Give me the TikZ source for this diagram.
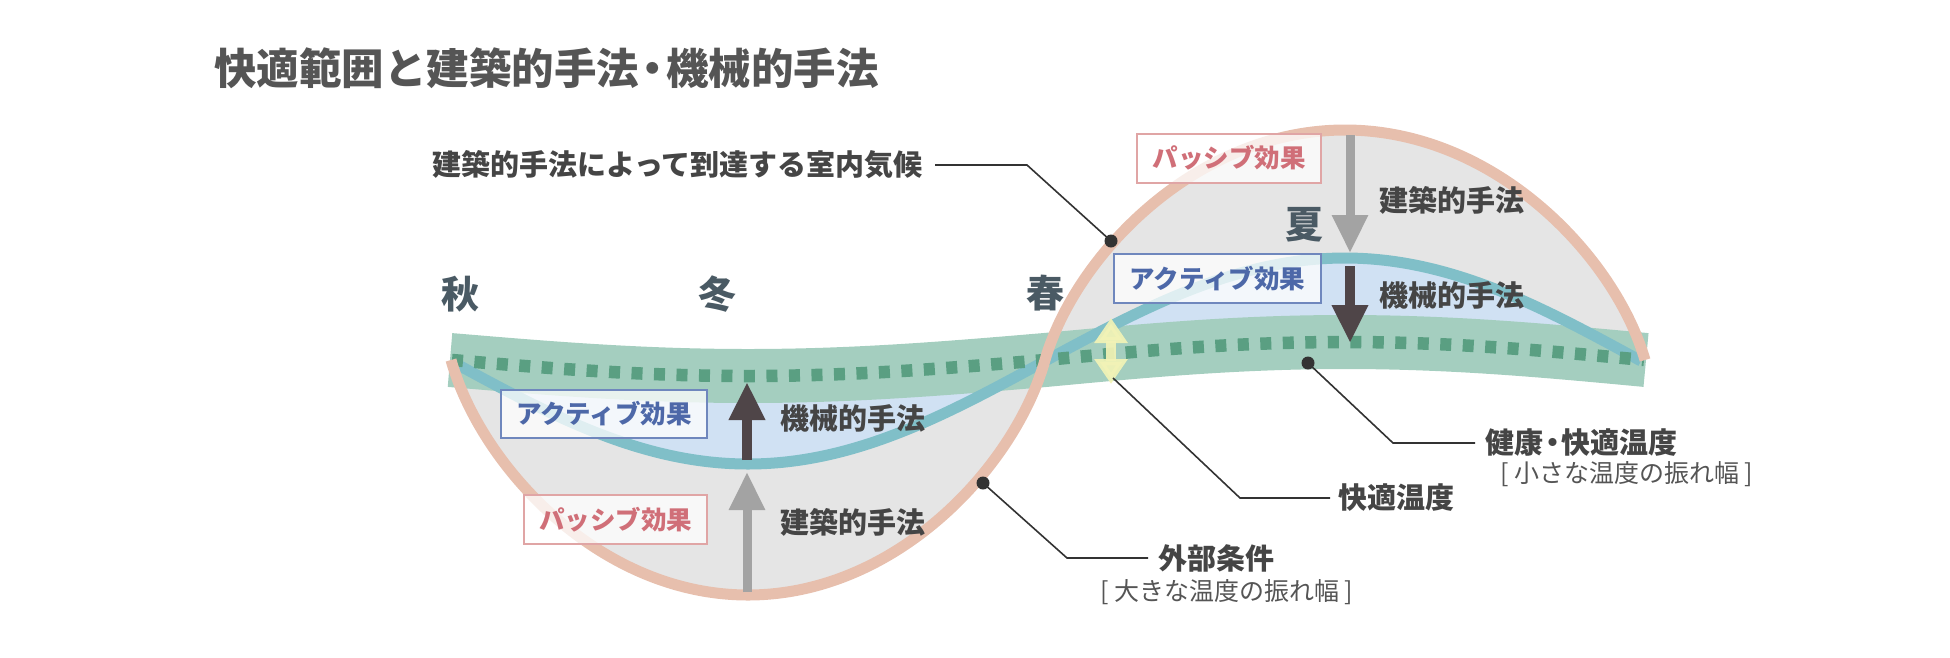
\documentclass[tikz,border=0pt]{standalone}
\usepackage{fontspec}
\setmainfont{Noto Sans CJK JP}
\usetikzlibrary{arrows.meta}
\definecolor{pinkc}{HTML}{E7BFAD}
\definecolor{grayfill}{HTML}{E5E5E5}
\definecolor{bluefill}{HTML}{D0E1F3}
\definecolor{tealc}{HTML}{80BFC8}
\definecolor{bandc}{HTML}{A4CEBF}
\definecolor{dotc}{HTML}{5A9F82}
\definecolor{yelc}{HTML}{F2F3B6}
\definecolor{arrgray}{HTML}{A3A3A3}
\definecolor{arrdark}{HTML}{4F4548}
\definecolor{ptext}{HTML}{D06F78}
\definecolor{pbord}{HTML}{E0A5A5}
\definecolor{atext}{HTML}{4D68A8}
\definecolor{abord}{HTML}{6F87BD}
\definecolor{titlec}{HTML}{555555}
\definecolor{labelc}{HTML}{454545}
\definecolor{subc}{HTML}{555555}
\definecolor{seasonc}{HTML}{4A5A64}
\definecolor{leadc}{HTML}{333333}
\newcommand{\ndot}{\hspace{-0.18em}・\hspace{-0.18em}}
\begin{document}
\begin{tikzpicture}[x=1pt,y=-1pt,
  titletext/.style={font=\bfseries\fontsize{42.5}{42.5}\selectfont, text=titlec, inner sep=0pt, anchor=west},
  lbl/.style={font=\bfseries\fontsize{29}{29}\selectfont, text=labelc, inner sep=0pt, anchor=west},
  sub/.style={font=\fontsize{25}{25}\selectfont, text=subc, inner sep=0pt, anchor=west},
  season/.style={font=\bfseries\fontsize{38}{38}\selectfont, text=seasonc, inner sep=0pt},
  effbox/.style={line width=2pt, fill=white, fill opacity=0.75, text opacity=1, draw opacity=1,
     font=\bfseries\fontsize{25.5}{25.5}\selectfont, inner sep=0pt, minimum height=49pt},
  pbox/.style={effbox, draw=pbord, text=ptext, minimum width=184pt},
  abox/.style={effbox, draw=abord, text=atext, minimum width=207pt},
  leader/.style={draw=leadc, line width=1.6pt},
  ldot/.style={circle, fill=leadc, inner sep=0pt, minimum size=13pt},
  garrow/.style={draw=arrgray, line width=9pt, -{Triangle[width=34pt,length=38pt]}},
  darrow/.style={draw=arrdark, line width=10pt, -{Triangle[width=34pt,length=38pt]}},
]
\useasboundingbox (0,0) rectangle (1950,657);

% gray lobes (outer climate)
\fill[grayfill] (451,360) .. controls (480.7,466) and (599.5,595) .. (748,595)
  .. controls (896.5,595) and (1015.3,466) .. (1045,360) -- cycle;
\fill[grayfill] (1045,360) .. controls (1075,256.5) and (1195,130) .. (1345,130)
  .. controls (1495,130) and (1615,256.5) .. (1645,360) -- cycle;

% light blue lobes (indoor climate by architecture)
\fill[bluefill] (451,361) sin (748,464) cos (1045,361) -- cycle;
\fill[bluefill] (1045,361) sin (1345,258) cos (1641,361) -- cycle;

% comfort band
\draw[bandc, line width=54pt, line cap=butt]
  (450,360) sin (748,376) cos (1045,360) sin (1345,342) cos (1646,360);

% teal curve
\draw[tealc, line width=11pt]
  (451,361) sin (748,464) cos (1045,361) sin (1345,258) cos (1641,361);

% dotted centre line
\draw[dotc, line width=12.5pt, dash pattern=on 11pt off 11.5pt]
  (452,360) sin (748,376) cos (1045,360) sin (1345,342) cos (1644,360);

% yellow double arrow (comfort temperature)
\coordinate (ya) at (1111,318);
\coordinate (yb) at (1111,384);
\draw[yelc, opacity=0.92, line width=10pt, {Triangle[width=32pt,length=25pt]}-{Triangle[width=32pt,length=25pt]}] (ya) -- (yb);

% pink outer curve
\draw[pinkc, line width=11pt]
  (451,360) .. controls (480.7,466) and (599.5,595) .. (748,595)
  .. controls (896.5,595) and (1015.3,466) .. (1045,360)
  .. controls (1075,256.5) and (1195,130) .. (1345,130)
  .. controls (1495,130) and (1615,256.5) .. (1645,360);

% arrows
\coordinate (wg1) at (747,592);
\coordinate (wg2) at (747,472);
\coordinate (wd1) at (747,460);
\coordinate (wd2) at (747,382);
\coordinate (sg1) at (1350,135);
\coordinate (sg2) at (1350,253);
\coordinate (sd1) at (1350,266);
\coordinate (sd2) at (1350,343);
\draw[garrow] (wg1) -- (wg2);
\draw[darrow] (wd1) -- (wd2);
\draw[garrow] (sg1) -- (sg2);
\draw[darrow] (sd1) -- (sd2);

% effect boxes
\node[pbox] (sp) at (1229,158) {パッシブ効果};
\node[abox] (sa) at (1217.5,278.5) {アクティブ効果};
\node[abox, minimum width=206pt, minimum height=48pt] (wa) at (604,414) {アクティブ効果};
\node[pbox, minimum width=183pt] (wp) at (615.5,519.5) {パッシブ効果};

% method labels
\node[lbl] (s1) at (1379,200) {建築的手法};
\node[lbl] (s2) at (1379,295) {機械的手法};
\node[lbl] (w1) at (780,418) {機械的手法};
\node[lbl] (w2) at (780,522) {建築的手法};

% seasons
\node[season] (aki) at (460,294) {秋};
\node[season] (fuyu) at (717,294) {冬};
\node[season] (haru) at (1045,293) {春};
\node[season] (natsu) at (1304,225) {夏};

% title
\node[titletext] (title) at (214,68) {快適範囲と建築的手法\ndot 機械的手法};

% leader: indoor climate
\node[lbl] (lt) at (432,165) {建築的手法によって到達する室内気候};
\coordinate (c1) at (1027,165);
\node[ldot] (d1) at (1111,241) {};
\draw[leader, shorten <=12pt] (lt.east) -- (lt.east -| c1) -- (d1.center);

% leader: healthy comfort temperature
\node[lbl] (hk) at (1485,443) {健康\ndot 快適温度};
\node[sub] (hks) at (1500,474) {[ 小さな温度の振れ幅 ]};
\coordinate (c2) at (1393,443);
\node[ldot] (d2) at (1308,363) {};
\draw[leader, shorten >=10pt] (d2.center) -- (c2 |- hk.west) -- (hk.west);

% leader: comfort temperature
\node[lbl] (kt) at (1338,498) {快適温度};
\coordinate (c3) at (1240,498);
\coordinate (e3) at (1113,378);
\draw[leader, shorten >=8pt] (e3) -- (c3 |- kt.west) -- (kt.west);

% leader: outside conditions
\node[lbl] (gb) at (1158,558) {外部条件};
\node[sub] (gbs) at (1100,592) {[ 大きな温度の振れ幅 ]};
\coordinate (c4) at (1067,558);
\node[ldot] (d4) at (983,483) {};
\draw[leader, shorten >=10pt] (d4.center) -- (c4 |- gb.west) -- (gb.west);

\end{tikzpicture}
\end{document}
